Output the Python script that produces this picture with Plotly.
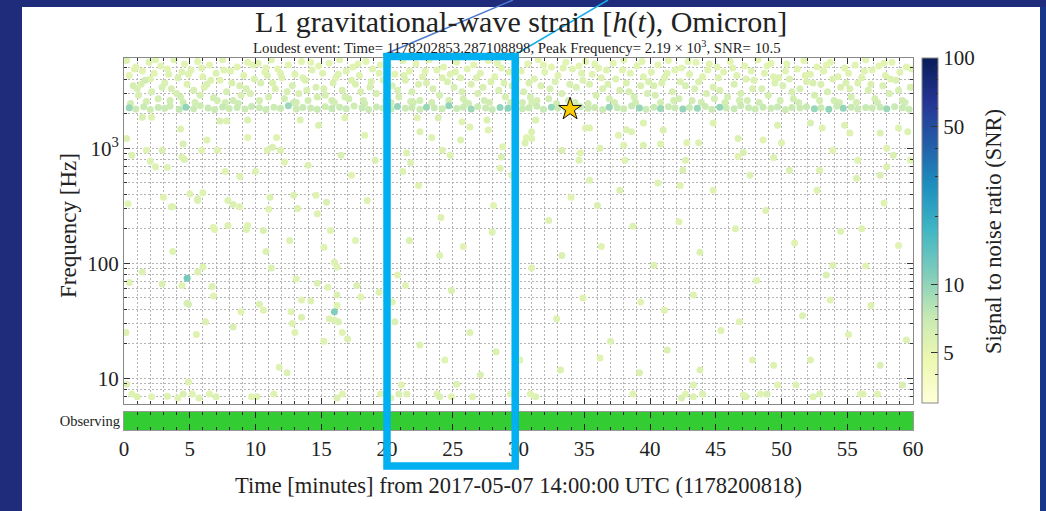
import numpy as np
import plotly.graph_objects as go

# ---------------- data ----------------
start_gps = 1178200818
start_utc = "2017-05-07 14:00:00 UTC"
loudest_time_str = "1178202853.287108898"
loudest_freq = 2190.0
loudest_snr = 10.5

# (time [min], frequency [Hz], SNR) - dense cloud at high frequency
cloud = [
    (0.2, 5800, 5.6), (0.4, 4300, 5.3), (0.7, 3500, 6.1), (0.9, 5100, 5.4), (1.1, 2900, 5.8), (1.4, 4700, 5.2),
    (1.6, 3900, 6.4), (1.9, 5600, 5.5), (2.1, 3100, 5.9), (2.3, 4500, 5.3), (2.6, 2700, 6.2), (2.8, 5200, 5.4),
    (3.1, 3700, 5.7), (3.3, 4900, 5.2), (3.6, 3300, 6.0), (3.8, 5900, 5.5), (4.1, 4100, 5.8), (4.3, 2800, 6.3),
    (4.6, 5400, 5.3), (4.8, 3600, 5.6), (1.0, 3300, 5.9), (2.0, 4000, 5.4), (3.5, 2600, 6.5), (4.4, 4600, 5.5),
    (5.1, 4800, 5.4), (5.3, 3200, 6.0), (5.6, 5700, 5.3), (5.8, 2900, 6.2), (6.0, 4200, 5.5), (6.3, 3600, 5.8),
    (6.5, 5300, 5.2), (6.8, 2750, 6.4), (7.0, 4500, 5.6), (7.3, 3900, 5.3), (7.5, 5900, 5.5), (7.8, 3100, 6.1),
    (8.1, 4700, 5.4), (8.3, 2600, 6.6), (8.6, 5100, 5.3), (8.8, 3500, 5.9), (9.1, 4300, 5.5), (9.4, 5600, 5.2),
    (9.6, 3000, 6.0), (9.9, 4000, 5.7), (6.1, 3400, 5.6), (7.7, 2500, 6.3), (8.9, 2900, 5.8),
    (10.2, 5500, 5.4), (10.4, 3700, 5.9), (10.7, 4600, 5.3), (11.0, 2800, 6.2), (11.2, 5900, 5.5), (11.5, 3300, 5.8),
    (11.7, 4900, 5.2), (12.0, 4100, 5.6), (12.2, 2700, 6.4), (12.5, 5300, 5.3), (12.8, 3500, 6.0), (13.0, 4400, 5.5),
    (13.3, 3000, 5.9), (13.5, 5700, 5.2), (13.8, 3900, 5.7), (14.0, 2600, 6.3), (14.3, 4800, 5.4), (14.6, 3400, 5.8),
    (14.8, 5200, 5.3), (10.9, 4300, 5.6), (12.9, 2500, 6.5), (13.9, 3200, 5.9),
    (15.1, 4500, 5.5), (15.3, 2900, 6.1), (15.6, 5500, 5.3), (15.9, 3700, 5.8), (16.1, 4100, 5.4), (16.4, 5900, 5.2),
    (16.6, 3200, 6.0), (16.9, 4700, 5.5), (17.1, 2700, 6.3), (17.4, 5100, 5.3), (17.6, 3600, 5.7), (17.9, 4300, 5.4),
    (18.2, 2600, 6.4), (18.4, 5700, 5.3), (18.7, 3400, 5.9), (18.9, 4900, 5.5), (19.2, 3000, 6.1), (19.5, 5300, 5.2),
    (19.7, 3900, 5.6), (16.0, 2500, 6.2), (18.0, 3100, 5.8),
    (20.1, 5200, 5.4), (20.4, 3500, 5.9), (20.6, 4400, 5.3), (20.9, 2800, 6.2), (21.2, 5800, 5.5), (21.4, 3900, 5.7),
    (21.7, 4700, 5.3), (21.9, 3100, 6.0), (22.2, 5400, 5.2), (22.5, 2600, 6.5), (22.7, 4200, 5.6), (23.0, 3700, 5.8),
    (23.2, 5900, 5.3), (23.5, 3300, 6.0), (23.8, 4800, 5.4), (24.0, 2900, 6.1), (24.3, 5100, 5.3), (24.6, 3800, 5.7),
    (24.8, 4400, 5.5), (22.0, 2500, 6.3),
    (25.1, 3400, 5.9), (25.3, 5600, 5.3), (25.6, 4100, 5.6), (25.8, 2700, 6.3), (26.1, 4900, 5.4), (26.4, 3600, 5.8),
    (26.6, 5300, 5.2), (26.9, 3000, 6.0), (27.1, 4500, 5.5), (27.4, 2600, 6.4), (27.7, 5800, 5.3), (27.9, 3800, 5.7),
    (28.2, 4200, 5.4), (28.5, 3200, 5.9), (28.7, 5000, 5.3), (29.0, 2800, 6.2), (29.3, 4600, 5.5), (29.5, 3500, 5.8),
    (29.8, 5500, 5.2), (26.0, 2500, 6.3),
    (30.2, 4700, 5.4), (30.4, 3100, 6.0), (30.7, 5400, 5.3), (30.9, 2800, 6.2), (31.2, 4000, 5.6), (31.5, 5900, 5.2),
    (31.7, 3500, 5.8), (32.0, 4600, 5.4), (32.3, 2700, 6.4), (32.5, 5100, 5.3), (32.8, 3800, 5.7), (33.0, 4300, 5.5),
    (33.3, 3000, 6.0), (33.6, 5600, 5.3), (33.8, 2600, 6.3), (34.1, 4900, 5.4), (34.4, 3400, 5.9), (34.6, 5200, 5.2),
    (34.9, 3900, 5.6), (31.0, 2500, 6.2),
    (35.1, 5700, 5.3), (35.4, 3600, 5.8), (35.6, 4400, 5.4), (35.9, 2900, 6.1), (36.1, 5000, 5.3), (36.4, 3300, 5.9),
    (36.7, 4800, 5.5), (36.9, 2700, 6.3), (37.2, 5500, 5.2), (37.4, 4000, 5.6), (37.7, 3200, 6.0), (38.0, 5900, 5.3),
    (38.2, 3700, 5.7), (38.5, 4500, 5.4), (38.8, 2800, 6.2), (39.0, 5200, 5.3), (39.3, 3500, 5.8), (39.5, 4200, 5.5),
    (39.8, 3000, 6.0),
    (40.1, 4600, 5.4), (40.4, 2900, 6.1), (40.6, 5300, 5.3), (40.9, 3700, 5.7), (41.1, 4100, 5.5), (41.4, 5800, 5.2),
    (41.7, 3100, 6.0), (41.9, 4800, 5.4), (42.2, 2700, 6.3), (42.4, 5000, 5.3), (42.7, 3500, 5.9), (43.0, 4400, 5.5),
    (43.2, 2600, 6.4), (43.5, 5600, 5.3), (43.7, 3800, 5.7), (44.0, 4200, 5.4), (44.3, 3000, 6.0), (44.5, 5400, 5.2),
    (44.8, 3400, 5.8),
    (45.1, 5100, 5.3), (45.3, 3200, 5.9), (45.6, 4600, 5.4), (45.9, 2800, 6.2), (46.1, 5700, 5.2), (46.4, 3600, 5.8),
    (46.6, 4300, 5.5), (46.9, 3000, 6.0), (47.2, 5200, 5.3), (47.4, 2600, 6.4), (47.7, 4700, 5.4), (47.9, 3900, 5.7),
    (48.2, 5900, 5.3), (48.5, 3300, 5.9), (48.7, 4500, 5.5), (49.0, 2900, 6.1), (49.2, 5500, 5.2), (49.5, 3700, 5.7),
    (49.8, 4100, 5.5),
    (50.1, 3500, 5.9), (50.4, 5400, 5.3), (50.6, 4000, 5.6), (50.9, 2700, 6.3), (51.2, 4900, 5.4), (51.4, 3300, 5.9),
    (51.7, 5800, 5.2), (51.9, 3800, 5.7), (52.2, 4400, 5.4), (52.5, 2900, 6.1), (52.7, 5100, 5.3), (53.0, 3600, 5.8),
    (53.2, 4700, 5.4), (53.5, 3100, 6.0), (53.7, 5600, 5.3), (54.0, 2600, 6.4), (54.3, 4200, 5.5), (54.5, 3400, 5.8),
    (54.8, 5000, 5.3),
    (55.1, 4500, 5.4), (55.3, 2800, 6.2), (55.6, 5300, 5.3), (55.8, 3700, 5.7), (56.1, 4100, 5.5), (56.4, 5900, 5.2),
    (56.6, 3200, 6.0), (56.9, 4800, 5.4), (57.1, 2700, 6.3), (57.4, 5200, 5.3), (57.7, 3500, 5.8), (57.9, 4300, 5.5),
    (58.2, 3000, 6.0), (58.4, 5600, 5.3), (58.7, 3900, 5.7), (59.0, 4600, 5.4), (59.2, 2600, 6.4), (59.5, 5100, 5.3),
    (59.8, 3400, 5.8),
]

# further high-frequency events filling the cloud
cloud_extra = [
    (0.5, 2450, 6.3), (0.8, 4900, 5.4), (1.3, 3600, 5.8), (1.7, 2550, 6.2), (2.4, 5900, 5.3), (2.9, 3400, 5.9),
    (3.4, 4400, 5.5), (4.0, 3000, 6.0), (4.5, 2500, 6.4), (4.9, 4400, 5.5), (5.4, 2500, 6.3), (5.9, 5000, 5.4),
    (6.6, 3900, 5.7), (7.1, 2600, 6.2), (7.6, 4800, 5.4), (8.2, 3700, 5.8), (8.7, 2450, 6.5), (9.3, 3300, 5.9),
    (9.8, 5300, 5.3), (10.3, 2600, 6.2), (10.8, 5000, 5.4), (11.3, 3700, 5.7), (11.9, 4500, 5.5), (12.4, 3100, 6.0),
    (13.1, 2500, 6.4), (13.6, 4100, 5.6), (14.2, 5600, 5.3), (14.7, 2800, 6.1), (15.2, 3300, 5.9), (15.8, 2600, 6.3),
    (16.3, 4400, 5.5), (16.8, 2800, 6.1), (17.3, 3900, 5.7), (17.8, 5400, 5.3), (18.3, 2450, 6.5), (18.8, 3800, 5.8),
    (19.4, 4500, 5.5), (19.9, 2600, 6.2), (20.3, 2500, 6.4), (20.8, 3200, 5.9), (21.3, 4300, 5.5), (21.8, 2550, 6.3),
    (22.4, 3600, 5.8), (22.9, 4700, 5.4), (23.4, 2500, 6.4), (24.2, 4100, 5.6), (24.7, 2600, 6.2), (25.2, 4600, 5.5),
    (25.7, 3100, 6.0), (26.2, 2450, 6.5), (26.8, 4100, 5.6), (27.3, 3400, 5.9), (27.8, 2500, 6.4), (28.4, 5500, 5.3),
    (28.9, 3700, 5.8), (29.4, 2500, 6.3), (29.9, 4000, 5.6), (30.3, 2500, 6.4), (30.8, 3700, 5.8), (31.4, 2600, 6.2),
    (31.9, 5300, 5.3), (32.4, 3300, 5.9), (32.9, 2450, 6.5), (33.4, 5000, 5.4), (33.9, 3600, 5.8), (34.3, 2500, 6.3),
    (34.8, 4500, 5.5), (35.3, 2450, 6.4), (35.8, 5400, 5.3), (36.3, 4100, 5.6), (36.8, 3600, 5.8), (37.3, 2500, 6.3),
    (37.9, 4800, 5.4), (38.4, 3100, 6.0), (38.9, 2500, 6.4), (39.4, 5700, 5.3), (39.9, 3800, 5.7), (40.3, 3500, 5.9),
    (40.8, 2500, 6.3), (41.3, 4500, 5.5), (41.8, 2600, 6.2), (42.3, 3800, 5.7), (42.9, 5700, 5.3), (43.4, 3300, 5.9),
    (43.9, 2500, 6.4), (44.4, 4800, 5.4), (44.9, 2700, 6.2), (45.2, 4100, 5.6), (45.7, 2500, 6.3), (46.3, 5000, 5.4),
    (46.8, 2600, 6.2), (47.3, 4000, 5.6), (47.8, 3300, 5.9), (48.3, 2500, 6.4), (48.9, 5200, 5.3), (49.4, 4200, 5.5),
    (49.9, 2600, 6.2), (50.3, 4700, 5.4), (50.8, 3100, 6.0), (51.3, 2500, 6.4), (51.8, 4300, 5.5), (52.4, 3700, 5.8),
    (52.9, 2600, 6.2), (53.4, 5300, 5.3), (53.9, 4000, 5.6), (54.4, 2500, 6.4), (54.9, 3700, 5.8), (55.2, 3300, 5.9),
    (55.7, 2500, 6.3), (56.3, 4700, 5.4), (56.8, 3600, 5.8), (57.3, 2500, 6.4), (57.8, 5500, 5.3), (58.3, 4000, 5.6),
    (58.9, 3200, 6.0), (59.4, 2500, 6.3), (59.9, 4900, 5.4),
]

# line of events near 2.2 kHz
band = [
    (0.4, 2250, 9.5), (0.9, 2200, 6.8), (1.5, 2300, 7.0), (2.0, 2180, 6.6), (2.6, 2260, 7.2), (3.1, 2230, 6.9),
    (3.5, 2320, 6.7), (4.2, 2190, 7.4), (4.7, 2270, 10.0), (5.3, 2210, 6.8), (5.8, 2340, 6.6), (6.4, 2240, 7.1),
    (6.9, 2170, 6.9), (7.5, 2290, 7.3), (8.0, 2220, 6.7), (8.6, 2260, 7.0), (9.2, 2200, 6.8), (9.7, 2310, 7.2),
    (10.3, 2250, 6.9), (10.8, 2180, 7.1), (11.4, 2280, 6.7), (11.9, 2230, 7.0), (12.5, 2350, 9.5), (13.1, 2200, 6.8),
    (13.6, 2260, 7.2), (14.2, 2240, 6.9), (14.7, 2190, 7.0), (15.3, 2300, 6.7), (15.8, 2220, 7.3), (16.4, 2270, 6.8),
    (16.9, 2210, 7.1), (17.5, 2330, 6.6), (18.1, 2250, 7.2), (18.6, 2180, 6.9), (19.2, 2290, 7.0), (19.7, 2240, 6.8),
    (20.3, 2200, 7.1), (20.8, 2310, 9.8), (21.4, 2230, 6.9), (21.9, 2260, 7.0), (22.5, 2190, 6.8), (23.0, 2280, 9.5),
    (23.6, 2250, 7.0), (24.2, 2210, 6.9), (24.7, 2340, 10.0), (25.3, 2220, 7.1), (25.8, 2270, 6.8), (26.4, 2200, 9.3),
    (26.9, 2300, 7.0), (27.5, 2240, 6.9), (28.0, 2180, 7.2), (28.6, 2260, 9.8), (29.2, 2230, 10.2), (29.7, 2290, 7.0),
    (30.3, 2210, 6.9), (30.8, 2250, 7.1), (31.4, 2320, 6.8), (31.9, 2190, 7.2), (32.5, 2270, 9.6), (33.0, 2240, 7.0),
    (33.6, 2200, 6.8), (34.7, 2300, 7.1), (35.3, 2230, 6.9), (35.8, 2260, 7.0), (36.4, 2180, 6.8), (36.9, 2280, 9.5),
    (37.5, 2250, 7.1), (38.0, 2210, 6.9), (38.6, 2330, 7.0), (39.2, 2240, 9.7), (39.7, 2190, 6.8), (40.3, 2270, 7.1),
    (40.8, 2220, 9.4), (41.4, 2300, 7.0), (41.9, 2250, 6.9), (42.5, 2200, 9.9), (43.0, 2260, 7.1), (43.6, 2230, 9.5),
    (44.2, 2310, 6.9), (44.7, 2190, 7.0), (45.3, 2280, 10.0), (45.8, 2240, 6.8), (46.4, 2210, 7.1), (46.9, 2350, 6.9),
    (47.5, 2250, 7.0), (48.0, 2200, 6.8), (48.6, 2270, 7.2), (49.2, 2230, 6.9), (49.7, 2290, 7.1), (50.3, 2180, 6.8),
    (50.8, 2260, 7.0), (51.4, 2240, 6.9), (51.9, 2300, 7.2), (52.5, 2210, 9.6), (53.0, 2250, 7.0), (53.6, 2190, 10.0),
    (54.2, 2320, 6.9), (54.7, 2230, 9.8), (55.3, 2270, 7.0), (55.8, 2200, 6.8), (56.4, 2260, 7.1), (56.9, 2240, 6.9),
    (57.5, 2280, 7.0), (58.0, 2210, 9.4), (58.6, 2300, 6.8), (59.2, 2250, 7.1), (59.7, 2190, 6.9),
]

# sparse events at intermediate frequencies
mid = [
    (0.2, 1220, 5.6), (1.4, 1860, 5.8), (2.1, 1860, 5.5), (0.6, 870, 5.7), (1.7, 963, 5.4), (2.0, 770, 5.6),
    (2.4, 690, 5.5), (2.9, 963, 5.8), (3.3, 680, 5.4), (4.3, 1470, 5.6), (4.5, 1090, 5.9), (4.4, 840, 5.5),
    (4.6, 800, 5.7), (5.9, 963, 5.4), (6.3, 1180, 5.6), (7.1, 963, 5.5), (7.3, 1730, 5.8), (7.7, 630, 5.4),
    (7.8, 1730, 5.6), (8.8, 570, 5.5), (9.4, 1760, 5.7), (9.4, 1240, 5.4), (10.0, 630, 5.6), (10.9, 963, 5.5),
    (11.3, 1020, 5.8), (11.6, 1240, 5.4), (11.9, 963, 5.6), (12.2, 760, 5.5), (12.9, 390, 5.7), (3.0, 375, 5.4),
    (3.7, 310, 5.6), (5.0, 400, 5.5), (5.6, 365, 5.8), (6.0, 410, 5.4), (7.9, 352, 5.6), (8.8, 310, 5.5),
    (11.1, 375, 5.7), (6.8, 205, 5.4), (7.9, 213, 5.6), (9.4, 213, 5.5), (10.6, 193, 5.8), (0.3, 330, 5.4),
    (3.6, 310, 5.6), (5.6, 352, 5.5), (8.3, 325, 5.7), (11.0, 295, 5.4), (13.2, 300, 5.6), (14.7, 270, 5.5),
    (15.4, 340, 5.8), (6.9, 197, 5.4), (9.3, 197, 5.6), (3.7, 127, 5.5), (10.8, 127, 5.7), (15.2, 138, 5.4),
    (1.4, 84, 5.6), (0.4, 68, 5.5), (2.9, 66, 5.8), (4.4, 64, 5.4), (4.8, 74, 12.0), (5.6, 84, 5.6),
    (6.0, 93, 5.5), (6.7, 63, 5.7), (6.8, 52, 5.4), (4.8, 45, 6.2), (4.9, 44, 6.0), (6.2, 31, 5.6),
    (5.5, 24, 5.5), (8.3, 28, 5.8), (8.9, 38, 5.4), (10.3, 44, 5.6), (10.6, 39, 5.5), (11.2, 91, 5.7),
    (12.7, 38, 5.4), (12.8, 30, 5.6), (13.0, 25, 5.5), (13.5, 34, 5.8), (13.5, 48, 5.4), (14.2, 47, 5.6),
    (13.1, 73, 5.5), (14.7, 67, 5.7), (15.5, 62, 5.4), (16.0, 102, 5.6), (16.2, 93, 5.5), (16.2, 53, 5.8),
    (16.2, 43, 5.4), (16.0, 38, 11.0), (15.6, 33, 5.6), (16.0, 32, 5.5), (16.3, 31, 5.7), (16.6, 25, 5.4),
    (17.0, 22, 5.6), (15.2, 21, 5.5), (17.7, 64, 5.8), (18.0, 51, 5.4), (0.15, 25, 5.6), (11.8, 12.5, 5.5),
    (12.4, 11.2, 5.7), (4.9, 9.3, 5.4), (19.4, 56, 5.6), (20.4, 46, 5.5), (20.6, 31, 5.8), (20.8, 79, 5.4),
    (21.8, 750, 5.6), (22.4, 476, 5.5), (21.7, 158, 5.7), (21.4, 64, 5.4), (24.1, 250, 5.6), (24.0, 117, 5.5),
    (24.9, 58, 5.8), (25.8, 140, 5.4), (26.3, 25, 5.6), (28.0, 187, 5.5), (28.3, 17, 5.7), (28.1, 319, 5.4),
    (28.6, 670, 5.6), (29.5, 582, 5.5), (30.5, 1110, 5.8), (31.0, 91, 5.4), (32.3, 236, 5.6), (32.9, 33, 5.5),
    (33.3, 117, 5.7), (34.0, 375, 5.4), (34.6, 787, 5.6), (34.9, 50, 5.5), (36.0, 319, 5.8), (36.3, 140, 5.4),
    (37.0, 21, 5.6), (38.0, 1065, 5.5), (38.7, 210, 5.7), (39.3, 46, 5.4), (40.3, 96, 5.6), (40.6, 500, 5.5),
    (41.3, 17.6, 5.8), (42.2, 230, 5.4), (42.7, 787, 5.6), (43.3, 53, 5.5), (43.8, 125, 5.7), (44.8, 431, 5.4),
    (45.4, 26, 5.6), (46.5, 200, 5.5), (47.1, 920, 5.8), (48.1, 71, 5.4), (48.8, 288, 5.6), (49.4, 13, 5.5),
    (50.6, 644, 5.7), (51.0, 150, 5.4), (51.6, 35, 5.6), (52.7, 431, 5.5), (53.4, 79, 5.8), (53.9, 963, 5.4),
    (54.5, 190, 5.6), (55.1, 24, 5.5), (55.7, 550, 5.7), (56.4, 95, 5.4), (56.8, 43, 5.6), (57.8, 335, 5.5),
    (58.5, 870, 5.8), (58.9, 143, 5.4), (59.5, 21.5, 5.6), (56.1, 200, 5.5), (53.9, 96, 5.7), (53.7, 48, 5.4),
    (52.2, 14.4, 5.6), (47.8, 14.4, 5.5), (57.5, 13, 5.8), (46.8, 31, 5.4), (43.8, 11.8, 5.6), (41.1, 39, 5.5),
    (39.2, 11.2, 5.7), (36.2, 15, 5.4), (33.2, 11.8, 5.6), (30.1, 14.4, 5.5), (27.1, 10.7, 5.8), (24.4, 14.4, 5.4),
    (22.5, 19.5, 5.6), (35.4, 527, 5.5), (37.7, 431, 5.7), (42.3, 476, 5.4), (47.6, 582, 5.6), (52.9, 644, 5.5),
    (57.5, 582, 5.8), (59.8, 787, 5.4),
    (31.0, 1390, 5.6), (35.1, 1500, 5.5), (38.2, 1450, 5.7), (37.6, 1300, 5.4), (38.6, 1390, 5.6), (39.5, 1660, 5.5),
    (41.0, 1440, 5.8), (42.8, 1120, 5.4), (43.7, 1120, 5.6), (44.8, 1660, 5.5), (46.7, 1220, 5.7), (48.6, 1180, 5.4),
    (49.7, 1590, 5.6), (50.0, 1120, 5.5), (52.2, 1660, 5.8), (53.1, 1500, 5.4), (54.8, 1590, 5.6), (55.2, 1360, 5.5),
    (57.5, 1360, 5.7), (58.9, 1500, 5.4), (59.6, 1390, 5.6), (40.8, 1090, 5.5), (42.5, 644, 5.8), (46.7, 850, 5.4),
    (49.4, 830, 5.6), (55.8, 787, 5.5), (58.0, 690, 5.7), (58.0, 1000, 5.4), (35.4, 1500, 5.6), (31.0, 1220, 5.5),
    (33.3, 963, 5.8), (34.7, 910, 5.4), (36.2, 1000, 5.6), (38.1, 787, 5.5), (39.5, 1065, 5.7),
    (22.3, 1840, 5.4), (22.5, 1390, 5.6), (23.4, 1240, 5.5), (23.9, 1840, 5.8), (25.7, 1700, 5.4), (25.6, 1180, 5.6),
    (26.3, 1530, 5.5), (27.6, 1760, 5.7), (27.7, 1440, 5.4), (24.2, 963, 5.6), (24.8, 870, 5.5), (28.7, 840, 5.8),
    (28.8, 1030, 5.4), (21.5, 910, 5.6), (21.2, 630, 5.5), (31.3, 1760, 5.7), (30.6, 1240, 5.4),
    (14.0, 712, 5.6), (14.6, 390, 5.5), (16.5, 870, 5.8), (17.3, 582, 5.4), (18.5, 352, 5.6), (15.7, 193, 5.5),
    (14.8, 1590, 5.7), (18.3, 1300, 5.4), (13.4, 1760, 5.6), (16.8, 1840, 5.5), (19.1, 787, 5.8), (17.6, 158, 5.4),
    (12.6, 158, 5.6),
]

# events near the bottom of the frequency range
low = [
    (0.2, 8.9, 5.6), (0.6, 7.3, 5.5), (1.0, 6.9, 5.7), (2.1, 6.9, 5.4), (3.3, 7.0, 5.6), (4.1, 6.75, 5.5),
    (4.5, 7.3, 5.8), (5.2, 7.3, 5.4), (5.7, 6.75, 5.6), (6.5, 7.3, 5.5), (7.0, 6.9, 5.7), (9.7, 6.9, 5.4),
    (10.1, 6.9, 5.6), (11.4, 7.3, 5.5), (16.2, 6.75, 5.8), (16.6, 7.3, 5.4), (19.5, 7.3, 5.6), (20.3, 6.75, 5.5),
    (20.9, 7.3, 5.7), (21.1, 8.75, 5.4), (21.5, 7.3, 5.6), (23.8, 7.3, 5.5), (24.0, 6.9, 5.8), (24.9, 6.9, 5.4),
    (25.3, 8.9, 5.6), (26.5, 6.9, 5.5), (29.4, 7.3, 5.7), (30.9, 7.3, 5.4), (31.3, 6.9, 5.6), (38.7, 7.3, 5.5),
    (42.4, 6.75, 5.8), (42.7, 7.3, 5.4), (43.3, 8.75, 5.6), (43.3, 6.9, 5.5), (44.0, 7.3, 5.7), (47.1, 7.15, 5.4),
    (47.3, 6.9, 5.6), (48.4, 7.3, 5.5), (48.9, 7.3, 5.8), (49.7, 8.75, 5.4), (51.1, 8.75, 5.6), (52.4, 6.9, 5.5),
    (52.9, 7.3, 5.7), (56.0, 7.3, 5.4), (56.2, 7.3, 5.6), (57.3, 7.3, 5.5), (59.2, 8.75, 5.8),
]

observing_segments = [(0.0, 60.0)]   # minutes
snr_range = (3.0, 100.0)
freq_range = (5.98, 6100.0)
time_range = (0.0, 60.0)
cbar_major = [5, 10, 50, 100]
cbar_minor = [3, 4, 6, 7, 8, 9, 20, 30, 40, 60, 70, 80, 90]
x_major = list(range(0, 61, 5))
y_major = [10, 100, 1000]
y_major_text = ["10", "100", "10<sup>3</sup>"]
y_minor = [6, 7, 8, 9, 20, 30, 40, 50, 60, 70, 80, 90, 200, 300, 400, 500, 600, 700, 800, 900,
           2000, 3000, 4000, 5000, 6000]
highlight_window = (20.0, 29.75)  # minutes

# ---------------- figure ----------------
W, H = 1046, 511
def px(x):
    return x / W
def py(y):
    return 1 - y / H

SERIF = "Liberation Serif, DejaVu Serif, serif"
TXT = "#222222"
ylgnbu = [[0.0, "#ffffd9"], [0.125, "#edf8b1"], [0.25, "#c7e9b4"], [0.375, "#7fcdbb"],
          [0.5, "#41b6c4"], [0.625, "#1d91c0"], [0.75, "#225ea8"], [0.875, "#253494"], [1.0, "#081d58"]]
clear = [[0.0, "rgba(0,0,0,0)"], [1.0, "rgba(0,0,0,0)"]]

events = sorted(cloud + cloud_extra + band + mid + low, key=lambda e: e[2])
ev_t = [e[0] for e in events]
ev_f = [e[1] for e in events]
ev_snr = np.array([e[2] for e in events])

loudest_t = (float(loudest_time_str) - start_gps) / 60.0
cmin, cmax = np.log10(snr_range[0]), np.log10(snr_range[1])

cb_common = dict(x=px(922), xanchor="left", y=py(58), yanchor="top",
                 len=345 / H, lenmode="fraction", thickness=16, thicknessmode="pixels",
                 xpad=0, ypad=0, tickmode="array", ticks="inside", tickcolor="#333333")

fig = go.Figure()
fig.add_trace(go.Scatter(
    x=ev_t, y=ev_f, mode="markers", xaxis="x", yaxis="y", hoverinfo="skip",
    marker=dict(size=7, color=np.log10(ev_snr), colorscale=ylgnbu, cmin=cmin, cmax=cmax,
                line=dict(width=0),
                colorbar=dict(**cb_common, outlinewidth=1, outlinecolor="#888888",
                              tickvals=[np.log10(v) for v in cbar_major],
                              ticktext=[str(v) for v in cbar_major], ticklen=7,
                              tickfont=dict(family=SERIF, size=21, color=TXT))),
    showlegend=False))

# transparent copy of the colour bar, carrying only the minor ticks
fig.add_trace(go.Scatter(
    x=[loudest_t], y=[loudest_freq], mode="markers", xaxis="x", yaxis="y", hoverinfo="skip",
    marker=dict(size=1, opacity=0, color=[np.log10(loudest_snr)], colorscale=clear, cmin=cmin, cmax=cmax,
                showscale=True,
                colorbar=dict(**cb_common, outlinewidth=0, showticklabels=False, ticklen=3,
                              tickvals=[np.log10(v) for v in cbar_minor])),
    showlegend=False))

fig.add_trace(go.Scatter(
    x=[loudest_t], y=[loudest_freq], mode="markers", xaxis="x", yaxis="y", hoverinfo="skip",
    marker=dict(symbol="star", size=17, color="#ffcc00", line=dict(color="#111111", width=1)),
    showlegend=False))

fig.add_trace(go.Bar(
    x=[s[1] - s[0] for s in observing_segments], base=[s[0] for s in observing_segments],
    y=[0.5] * len(observing_segments), orientation="h", width=1,
    marker=dict(color="#33cc33", line=dict(width=0)),
    xaxis="x2", yaxis="y2", hoverinfo="skip", showlegend=False))

xdom = [px(124), px(913)]
grid = dict(showgrid=True, gridcolor="#b4b4b4", gridwidth=1, griddash="2px,2px")

fig.update_layout(
    width=W, height=H,
    margin=dict(l=0, r=0, t=0, b=0, autoexpand=False),
    paper_bgcolor="#1f2b7b", plot_bgcolor="white",
    font=dict(family=SERIF, color=TXT),
    xaxis=dict(domain=xdom, anchor="y", range=list(time_range), showticklabels=False, automargin=False,
               tickmode="array", tickvals=x_major, ticks="inside", ticklen=6, tickcolor="#333333",
               mirror="allticks", showline=True, linecolor="#888888", linewidth=1, zeroline=False,
               minor=dict(dtick=1, tick0=0, ticks="inside", ticklen=3, tickcolor="#333333", **grid),
               **grid),
    yaxis=dict(domain=[py(404), py(58)], anchor="x", type="log", automargin=False,
               range=[np.log10(freq_range[0]), np.log10(freq_range[1])],
               tickmode="array", tickvals=y_major, ticktext=y_major_text,
               ticks="inside", ticklen=6, tickcolor="#333333",
               mirror="allticks", showline=True, linecolor="#888888", linewidth=1, zeroline=False,
               tickfont=dict(family=SERIF, size=21, color=TXT),
               minor=dict(tickmode="array", tickvals=y_minor, ticks="inside", ticklen=3,
                          tickcolor="#333333", **grid),
               **grid),
    xaxis2=dict(domain=xdom, anchor="y2", range=list(time_range), matches="x", automargin=False,
                tickmode="array", tickvals=x_major, ticks="inside", ticklen=6, tickcolor="#222222",
                mirror="allticks", showline=True, linecolor="#999999", linewidth=1, zeroline=False,
                showgrid=False, tickfont=dict(family=SERIF, size=21, color=TXT),
                minor=dict(dtick=1, tick0=0, ticks="inside", ticklen=3, tickcolor="#222222")),
    yaxis2=dict(domain=[py(430), py(412)], anchor="x2", range=[0, 1], showgrid=False, zeroline=False,
                automargin=False,
                tickmode="array", tickvals=[0.5], ticktext=["Observing"], ticks="",
                showline=True, mirror=True, linecolor="#999999", linewidth=1,
                tickfont=dict(family=SERIF, size=14.5, color=TXT)),
    bargap=0,
)

sub = (f"Loudest event: Time= {loudest_time_str}, Peak Frequency= "
       f"{loudest_freq/1000:.2f} × 10<sup>3</sup>, SNR= {loudest_snr}")
annotations = [
    dict(x=px(521), y=py(22), text="L1 gravitational-wave strain [<i>h</i>(<i>t</i>), Omicron]",
         font=dict(family=SERIF, size=30, color=TXT)),
    dict(x=px(517), y=py(47), text=sub, font=dict(family=SERIF, size=14.8, color=TXT)),
    dict(x=px(68), y=py(226), text="Frequency [Hz]", textangle=-90,
         font=dict(family=SERIF, size=23, color=TXT)),
    dict(x=px(518), y=py(485),
         text=f"Time [minutes] from {start_utc} ({start_gps})",
         font=dict(family=SERIF, size=22.5, color=TXT)),
    dict(x=px(993), y=py(232), text="Signal to noise ratio (SNR)", textangle=-90,
         font=dict(family=SERIF, size=22.5, color=TXT)),
]
for a in annotations:
    a.update(xref="paper", yref="paper", showarrow=False, xanchor="center", yanchor="middle")
fig.update_layout(annotations=annotations)

shapes = [
    # white slide panel and the slightly bluer right-hand slide edge
    dict(type="rect", xref="paper", yref="paper", x0=px(22), x1=px(1040), y0=0, y1=py(7),
         fillcolor="white", line=dict(width=0), layer="below"),
    dict(type="rect", xref="paper", yref="paper", x0=px(1040), x1=1, y0=0, y1=py(7),
         fillcolor="#17378b", line=dict(width=0), layer="below"),
    # callout lines
    dict(type="line", xref="paper", yref="paper", x0=px(513), y0=1, x1=px(383), y1=py(55),
         line=dict(color="#4a78d0", width=1.5), layer="above"),
    dict(type="line", xref="paper", yref="paper", x0=px(608), y0=1, x1=px(518), y1=py(53),
         line=dict(color="#19aeea", width=1.5), layer="above"),
    # highlight box
    dict(type="rect", xref="x", yref="paper", x0=highlight_window[0], x1=highlight_window[1],
         y0=py(466), y1=py(56.5), line=dict(color="#00b0f0", width=7.5), fillcolor="rgba(0,0,0,0)",
         layer="above"),
]
fig.update_layout(shapes=shapes)

fig.write_html("out.html")
